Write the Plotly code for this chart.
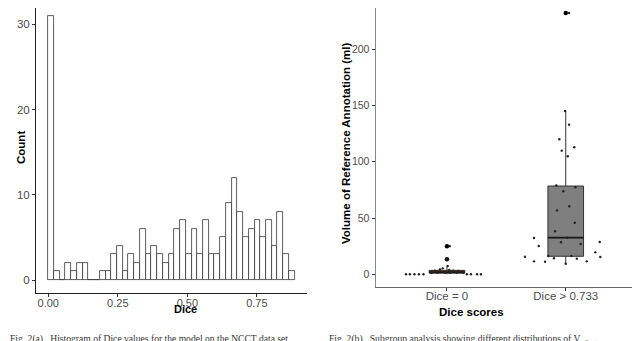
import plotly.graph_objects as go

# histogram of dice values (counts per bin, bins start at 0)
bin_width = 0.0206
hist_counts = [31, 1, 0, 2, 1, 2, 2, 0, 0, 1, 1, 3, 4, 1, 3, 2, 6, 3, 4, 3, 2, 3,
               6, 7, 3, 6, 3, 7, 3, 3, 5, 9, 12, 8, 5, 6, 7, 5, 7, 4, 8, 3, 1]

# subgroup boxplots
groups = ["Dice = 0", "Dice > 0.733"]
box_q1 = [1.0, 16.0]
box_median = [2.0, 32.5]
box_q3 = [3.5, 78.4]
box_low = [0.0, 9.4]
box_high = [7.2, 145.0]
box_colors = ["#cd1a1a", "#7f7f7f"]
box_width = 0.3

# outliers (drawn at group centre)
out_group = [1, 1, 2]
out_vals = [25.0, 13.3, 232.0]

# jittered points: jitter offset and value per group
g1_jit = [-0.345, -0.312, -0.274, -0.236, -0.198, 0.168, 0.202, 0.253, 0.286,
          -0.059, -0.036, -0.101, 0.019, 0.053, 0.095, -0.137,
          -0.129, -0.082, -0.017, 0.025, 0.082, 0.137, 0.006, 0.023, 0.0]
g1_vals = [0, 0, 0, 0, 0, 0, 0, 0, 0,
           4.4, 5.3, 3.2, 3.8, 3.2, 2.9, 2.3,
           1.4, 1.4, 1.4, 1.4, 1.4, 1.4, 7.4, 25.0, 13.3]
g2_jit = [-0.006, 0.028, -0.054, 0.072, -0.034, 0.017, -0.079, 0.081, -0.02, 0.03,
          -0.073, 0.076, -0.09, 0.013, -0.267, 0.286, -0.04, 0.126, -0.227, 0.249,
          -0.343, 0.291, -0.147, 0.047, -0.267, -0.174, -0.099, 0.093, 0.177, 0.0, 0.028]
g2_vals = [145, 132.9, 119.9, 112.8, 109.8, 104.8, 79, 77.3, 73.7, 60.4,
           56.8, 45.8, 38.2, 32.5, 32.2, 28.7, 28.4, 26.9, 25.1, 19.5,
           15.6, 15.4, 16.3, 16.3, 11.5, 11.2, 14.2, 13.9, 11.5, 9.4, 232]

# the page body adds an 8px margin, so positions are measured from that offset
off = 8
W, H = 640, 341


def px_x(p):
    return max(p - off, 0) / W


def px_y(p):
    return 1 - max(p - off, 0) / H


fig = go.Figure()

bin_centres = [bin_width * (i + 0.5) for i in range(len(hist_counts))]
fig.add_trace(go.Bar(x=bin_centres, y=hist_counts, width=bin_width,
                     marker=dict(color="white", line=dict(color="#333333", width=0.8)),
                     xaxis="x", yaxis="y", showlegend=False))

for i, g in enumerate(groups):
    fig.add_trace(go.Box(x=[i + 1], q1=[box_q1[i]], median=[box_median[i]], q3=[box_q3[i]],
                         lowerfence=[box_low[i]], upperfence=[box_high[i]],
                         width=box_width, whiskerwidth=0, fillcolor=box_colors[i],
                         line=dict(color="#333333", width=1), boxpoints=False,
                         xaxis="x2", yaxis="y2", showlegend=False))
    # thicker median line like ggplot
    fig.add_trace(go.Scatter(x=[i + 1 - box_width / 2, i + 1 + box_width / 2],
                             y=[box_median[i], box_median[i]], mode="lines",
                             line=dict(color="#1a1a1a", width=1.8),
                             xaxis="x2", yaxis="y2", showlegend=False, hoverinfo="skip"))

fig.add_trace(go.Scatter(x=out_group, y=out_vals, mode="markers",
                         marker=dict(color="black", size=4.5),
                         xaxis="x2", yaxis="y2", showlegend=False))
fig.add_trace(go.Scatter(x=[1 + j for j in g1_jit], y=g1_vals, mode="markers",
                         marker=dict(color="#222222", size=2.4),
                         xaxis="x2", yaxis="y2", showlegend=False))
fig.add_trace(go.Scatter(x=[2 + j for j in g2_jit], y=g2_vals, mode="markers",
                         marker=dict(color="#222222", size=2.4),
                         xaxis="x2", yaxis="y2", showlegend=False))

axis_common = dict(showgrid=False, zeroline=False, showline=True, ticks="outside",
                   ticklen=3, tickcolor="#333333", automargin=False)


def tfont(size):
    return dict(family="Liberation Sans, Arial", size=size, color="#4d4d4d")


fig.update_layout(
    width=W, height=H,
    margin=dict(l=0, r=0, t=0, b=0),
    paper_bgcolor="white", plot_bgcolor="white",
    bargap=0,
    xaxis=dict(domain=[px_x(36), px_x(306.7)], range=[-0.044, 0.929],
               tickvals=[0, 0.25, 0.5, 0.75], ticktext=["0.00", "0.25", "0.50", "0.75"],
               linecolor="#222222", linewidth=1, anchor="y", tickfont=tfont(11),
               ticklabelstandoff=-4, **axis_common),
    yaxis=dict(domain=[px_y(293.3), 1.0], range=[-1.56, 31.9], tickvals=[0, 10, 20, 30],
               linecolor="#222222", linewidth=1, anchor="x", tickfont=tfont(11.5), **axis_common),
    xaxis2=dict(domain=[px_x(375.7), px_x(637)], range=[0.4, 2.6], tickvals=[1, 2], ticktext=groups,
                linecolor="#666666", linewidth=1.2, anchor="y2", tickfont=tfont(11.5),
                ticklabelstandoff=-5, **axis_common),
    yaxis2=dict(domain=[px_y(287.3), 1.0], range=[-11.55, 236.5], tickvals=[0, 50, 100, 150, 200],
                linecolor="#888888", linewidth=1.3, anchor="x2", tickfont=tfont(10.5), **axis_common),
)

title_font = dict(family="Liberation Sans, Arial", size=11.5, color="black")
cap_font = dict(family="Liberation Serif, serif", size=9.6, color="#333333")
fig.add_annotation(text="<b>Count</b>", x=px_x(13), y=px_y(148), xref="paper", yref="paper",
                   textangle=-90, showarrow=False, font=title_font)
fig.add_annotation(text="<b>Dice</b>", x=px_x(172), y=px_y(317), xref="paper", yref="paper",
                   showarrow=False, font=dict(family="Liberation Sans, Arial", size=11, color="black"))
fig.add_annotation(text="<b>Volume of Reference Annotation (ml)</b>", x=px_x(346), y=px_y(144),
                   xref="paper", yref="paper", textangle=-90, showarrow=False, font=title_font)
fig.add_annotation(text="<b>Dice scores</b>", x=px_x(506), y=px_y(320), xref="paper", yref="paper",
                   showarrow=False, font=title_font)
fig.add_annotation(text="Fig. 2(a).  Histogram of Dice values for the model on the NCCT data set",
                   x=px_x(8), y=px_y(331), xref="paper", yref="paper", xanchor="left", yanchor="top",
                   showarrow=False, font=cap_font)
fig.add_annotation(text="Fig. 2(b).  Subgroup analysis showing different distributions of V<sub>adjust</sub>",
                   x=px_x(327), y=px_y(331), xref="paper", yref="paper", xanchor="left", yanchor="top",
                   showarrow=False, font=cap_font)

fig.write_html("out.html")
